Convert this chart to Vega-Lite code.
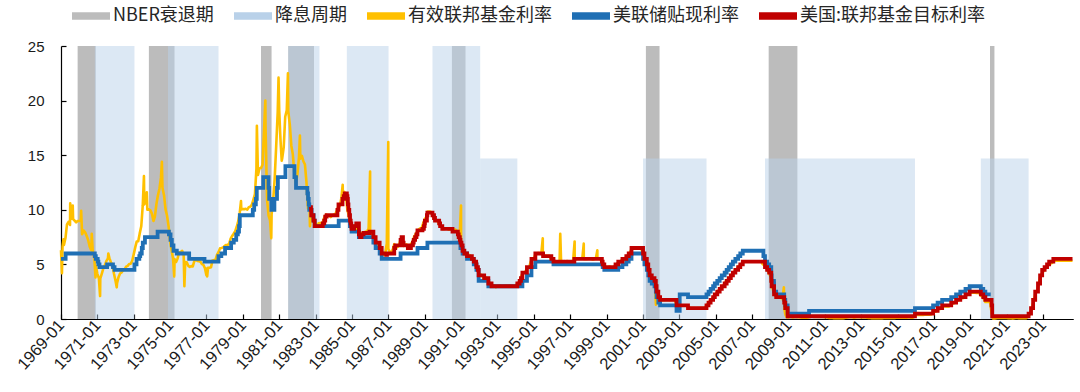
{
"$schema":"https://vega.github.io/schema/vega-lite/v6.json",
"width":1012,"height":273,
"autosize":{"type":"none"},
"padding":{"left":61,"top":46,"right":7,"bottom":73},
"background":"white",
"resolve":{"axis":{"x":"independent"}},
"config":{"view":{"stroke":null},"axis":{"grid":false,"domainColor":"#000","domainWidth":1.2,"tickColor":"#000","tickWidth":1.2,"labelColor":"#1a1a1a","labelFont":"Liberation Sans"}},
"datasets":{
"rec":[{"start":"1969-12-01","end":"1970-11-30","top":25},{"start":"1973-11-01","end":"1975-03-31","top":25},{"start":"1980-01-01","end":"1980-07-31","top":25},{"start":"1981-07-01","end":"1982-11-30","top":25},{"start":"1990-07-01","end":"1991-03-31","top":25},{"start":"2001-03-01","end":"2001-11-30","top":25},{"start":"2007-12-01","end":"2009-06-30","top":25},{"start":"2020-02-01","end":"2020-04-30","top":25}],
"cut":[{"start":"1970-11-11","end":"1973-01-15","top":25},{"start":"1974-11-20","end":"1977-08-30","top":25},{"start":"1981-07-01","end":"1983-03-20","top":25},{"start":"1984-09-20","end":"1987-01-05","top":25},{"start":"1989-06-06","end":"1992-01-20","top":25},{"start":"1992-01-20","end":"1994-02-04","top":14.7},{"start":"2001-01-03","end":"2004-06-30","top":14.7},{"start":"2007-09-18","end":"2015-12-17","top":14.7},{"start":"2019-08-01","end":"2022-03-17","top":14.7}],
"eff":[
{"d":"1969-01","v":6.3},{"d":"1969-01-20","v":4.2},{"d":"1969-02","v":6.64},{"d":"1969-02-20","v":7.3},{"d":"1969-03","v":6.79},{"d":"1969-04","v":7.41},{"d":"1969-05","v":8.67},{"d":"1969-06","v":8.9},{"d":"1969-07","v":8.61},{"d":"1969-07-05","v":10.6},{"d":"1969-08","v":9.19},{"d":"1969-08-25","v":10.4},{"d":"1969-09","v":9.15},{"d":"1969-10","v":9.0},{"d":"1969-11","v":8.85},{"d":"1969-12","v":8.97},
{"d":"1970-01","v":8.98},{"d":"1970-02","v":8.98},{"d":"1970-02-10","v":9.9},{"d":"1970-03","v":7.76},{"d":"1970-04","v":8.1},{"d":"1970-05","v":7.94},{"d":"1970-06","v":7.6},{"d":"1970-07","v":7.21},{"d":"1970-08","v":6.61},{"d":"1970-09","v":6.29},{"d":"1970-09-10","v":7.8},{"d":"1970-10","v":6.2},{"d":"1970-11","v":5.6},{"d":"1970-11-25","v":3.8},{"d":"1970-12","v":4.9},
{"d":"1971-01","v":4.14},{"d":"1971-02","v":3.72},{"d":"1971-02-25","v":2.1},{"d":"1971-03","v":3.71},{"d":"1971-04","v":4.16},{"d":"1971-05","v":4.63},{"d":"1971-06","v":4.91},{"d":"1971-07","v":5.31},{"d":"1971-08","v":5.56},{"d":"1971-08-10","v":6.0},{"d":"1971-09","v":5.55},{"d":"1971-10","v":5.2},{"d":"1971-11","v":4.91},{"d":"1971-12","v":4.14},
{"d":"1972-01","v":3.5},{"d":"1972-01-25","v":2.9},{"d":"1972-02","v":3.29},{"d":"1972-03","v":3.83},{"d":"1972-04","v":4.17},{"d":"1972-05","v":4.27},{"d":"1972-06","v":4.46},{"d":"1972-07","v":4.55},{"d":"1972-08","v":4.8},{"d":"1972-09","v":4.87},{"d":"1972-10","v":5.04},{"d":"1972-11","v":5.06},{"d":"1972-12","v":5.33},
{"d":"1973-01","v":5.94},{"d":"1973-02","v":6.58},{"d":"1973-03","v":7.09},{"d":"1973-04","v":7.12},{"d":"1973-05","v":7.84},{"d":"1973-06","v":8.49},{"d":"1973-07","v":10.4},{"d":"1973-07-25","v":13.1},{"d":"1973-08","v":10.5},{"d":"1973-09","v":10.78},{"d":"1973-09-20","v":11.6},{"d":"1973-10","v":10.01},{"d":"1973-11","v":10.03},{"d":"1973-12","v":9.95},
{"d":"1974-01","v":9.65},{"d":"1974-02","v":8.97},{"d":"1974-03","v":9.35},{"d":"1974-04","v":10.51},{"d":"1974-05","v":11.31},{"d":"1974-06","v":11.93},{"d":"1974-07","v":12.92},{"d":"1974-07-20","v":14.4},{"d":"1974-08","v":12.01},{"d":"1974-09","v":11.34},{"d":"1974-10","v":10.06},{"d":"1974-11","v":9.45},{"d":"1974-12","v":8.53},
{"d":"1975-01","v":7.13},{"d":"1975-02","v":6.24},{"d":"1975-03","v":5.54},{"d":"1975-03-25","v":3.9},{"d":"1975-04","v":5.49},{"d":"1975-05","v":5.22},{"d":"1975-06","v":5.55},{"d":"1975-07","v":6.1},{"d":"1975-08","v":6.14},{"d":"1975-09","v":6.24},{"d":"1975-10","v":5.82},{"d":"1975-10-15","v":3.0},{"d":"1975-11","v":5.22},{"d":"1975-12","v":5.2},
{"d":"1976-01","v":4.87},{"d":"1976-02","v":4.77},{"d":"1976-03","v":4.84},{"d":"1976-04","v":4.82},{"d":"1976-05","v":5.29},{"d":"1976-06","v":5.48},{"d":"1976-07","v":5.31},{"d":"1976-08","v":5.29},{"d":"1976-09","v":5.25},{"d":"1976-10","v":5.02},{"d":"1976-11","v":4.95},{"d":"1976-12","v":4.65},{"d":"1976-12-30","v":4.0},
{"d":"1977-01","v":4.61},{"d":"1977-01-15","v":3.9},{"d":"1977-02","v":4.68},{"d":"1977-03","v":4.69},{"d":"1977-04","v":4.73},{"d":"1977-05","v":5.35},{"d":"1977-06","v":5.39},{"d":"1977-07","v":5.42},{"d":"1977-08","v":5.9},{"d":"1977-09","v":6.14},{"d":"1977-10","v":6.47},{"d":"1977-11","v":6.51},{"d":"1977-12","v":6.56},
{"d":"1978-01","v":6.7},{"d":"1978-02","v":6.78},{"d":"1978-03","v":6.79},{"d":"1978-04","v":6.89},{"d":"1978-05","v":7.36},{"d":"1978-06","v":7.6},{"d":"1978-07","v":7.81},{"d":"1978-08","v":8.04},{"d":"1978-09","v":8.45},{"d":"1978-10","v":8.96},{"d":"1978-11","v":9.76},{"d":"1978-11-25","v":10.8},{"d":"1978-12","v":10.03},
{"d":"1979-01","v":10.07},{"d":"1979-02","v":10.06},{"d":"1979-03","v":10.09},{"d":"1979-04","v":10.01},{"d":"1979-05","v":10.24},{"d":"1979-06","v":10.29},{"d":"1979-07","v":10.47},{"d":"1979-08","v":10.94},{"d":"1979-09","v":11.43},{"d":"1979-10","v":13.77},{"d":"1979-10-10","v":17.7},{"d":"1979-11","v":13.18},{"d":"1979-12","v":13.78},
{"d":"1980-01","v":13.82},{"d":"1980-02","v":14.13},{"d":"1980-03","v":17.19},{"d":"1980-03-28","v":20.0},{"d":"1980-04","v":17.61},{"d":"1980-05","v":10.98},{"d":"1980-06","v":9.47},{"d":"1980-07","v":9.03},{"d":"1980-07-25","v":7.4},{"d":"1980-08","v":9.61},{"d":"1980-09","v":10.87},{"d":"1980-10","v":12.81},{"d":"1980-11","v":15.85},{"d":"1980-12","v":18.9},{"d":"1980-12-18","v":22.1},
{"d":"1981-01","v":19.08},{"d":"1981-01-20","v":17.0},{"d":"1981-02","v":15.93},{"d":"1981-02-20","v":14.5},{"d":"1981-03","v":14.7},{"d":"1981-04","v":15.72},{"d":"1981-05","v":18.52},{"d":"1981-06","v":19.1},{"d":"1981-06-25","v":22.5},{"d":"1981-07","v":19.04},{"d":"1981-08","v":17.82},{"d":"1981-09","v":15.87},{"d":"1981-10","v":15.08},{"d":"1981-11","v":13.31},{"d":"1981-12","v":12.37},
{"d":"1982-01","v":13.22},{"d":"1982-02","v":14.78},{"d":"1982-02-20","v":16.8},{"d":"1982-03","v":14.68},{"d":"1982-04","v":14.94},{"d":"1982-05","v":14.45},{"d":"1982-06","v":14.15},{"d":"1982-07","v":12.59},{"d":"1982-08","v":10.12},{"d":"1982-09","v":10.31},{"d":"1982-09-10","v":8.5},{"d":"1982-10","v":9.71},{"d":"1982-11","v":9.2},{"d":"1982-12","v":8.95},
{"d":"1983-01","v":8.68},{"d":"1983-02","v":8.51},{"d":"1983-03","v":8.77},{"d":"1983-04","v":8.8},{"d":"1983-05","v":8.63},{"d":"1983-06","v":8.98},{"d":"1983-07","v":9.37},{"d":"1983-08","v":9.56},{"d":"1983-09","v":9.45},{"d":"1983-10","v":9.48},{"d":"1983-11","v":9.34},{"d":"1983-12","v":9.47},
{"d":"1984-01","v":9.56},{"d":"1984-02","v":9.59},{"d":"1984-03","v":9.91},{"d":"1984-04","v":10.29},{"d":"1984-05","v":10.32},{"d":"1984-06","v":11.06},{"d":"1984-06-29","v":12.3},{"d":"1984-07","v":11.23},{"d":"1984-08","v":11.64},{"d":"1984-09","v":11.3},{"d":"1984-10","v":9.99},{"d":"1984-11","v":9.43},{"d":"1984-12","v":8.38},
{"d":"1985-01","v":8.35},{"d":"1985-02","v":8.5},{"d":"1985-03","v":8.58},{"d":"1985-04","v":8.27},{"d":"1985-05","v":7.97},{"d":"1985-06","v":7.53},{"d":"1985-07","v":7.88},{"d":"1985-08","v":7.9},{"d":"1985-09","v":7.92},{"d":"1985-10","v":7.99},{"d":"1985-11","v":8.05},{"d":"1985-12","v":8.27},{"d":"1985-12-31","v":13.5},
{"d":"1986-01","v":8.14},{"d":"1986-02","v":7.86},{"d":"1986-03","v":7.48},{"d":"1986-04","v":6.99},{"d":"1986-05","v":6.85},{"d":"1986-06","v":6.92},{"d":"1986-07","v":6.56},{"d":"1986-08","v":6.17},{"d":"1986-09","v":5.89},{"d":"1986-10","v":5.85},{"d":"1986-11","v":6.04},{"d":"1986-12","v":6.91},{"d":"1986-12-31","v":16.2},
{"d":"1987-01","v":6.43},{"d":"1987-02","v":6.1},{"d":"1987-03","v":6.13},{"d":"1987-04","v":6.37},{"d":"1987-05","v":6.85},{"d":"1987-06","v":6.73},{"d":"1987-07","v":6.58},{"d":"1987-08","v":6.73},{"d":"1987-09","v":7.22},{"d":"1987-10","v":7.29},{"d":"1987-11","v":6.69},{"d":"1987-12","v":6.77},
{"d":"1988-01","v":6.83},{"d":"1988-02","v":6.58},{"d":"1988-03","v":6.58},{"d":"1988-04","v":6.87},{"d":"1988-05","v":7.09},{"d":"1988-06","v":7.51},{"d":"1988-07","v":7.75},{"d":"1988-08","v":8.01},{"d":"1988-09","v":8.19},{"d":"1988-10","v":8.3},{"d":"1988-11","v":8.35},{"d":"1988-12","v":8.76},
{"d":"1989-01","v":9.12},{"d":"1989-02","v":9.36},{"d":"1989-03","v":9.85},{"d":"1989-04","v":9.84},{"d":"1989-05","v":9.81},{"d":"1989-06","v":9.53},{"d":"1989-07","v":9.24},{"d":"1989-08","v":8.99},{"d":"1989-09","v":9.02},{"d":"1989-10","v":8.84},{"d":"1989-11","v":8.55},{"d":"1989-12","v":8.45},
{"d":"1990-01","v":8.23},{"d":"1990-02","v":8.24},{"d":"1990-03","v":8.28},{"d":"1990-04","v":8.26},{"d":"1990-05","v":8.18},{"d":"1990-06","v":8.29},{"d":"1990-07","v":8.15},{"d":"1990-08","v":8.13},{"d":"1990-09","v":8.2},{"d":"1990-10","v":8.11},{"d":"1990-11","v":7.81},{"d":"1990-12","v":7.31},{"d":"1990-12-31","v":10.4},
{"d":"1991-01","v":6.91},{"d":"1991-02","v":6.25},{"d":"1991-03","v":6.12},{"d":"1991-04","v":5.91},{"d":"1991-05","v":5.78},{"d":"1991-06","v":5.9},{"d":"1991-07","v":5.82},{"d":"1991-08","v":5.66},{"d":"1991-09","v":5.45},{"d":"1991-10","v":5.21},{"d":"1991-11","v":4.81},{"d":"1991-12","v":4.43},
{"d":"1992-01","v":4.03},{"d":"1992-02","v":4.06},{"d":"1992-03","v":3.98},{"d":"1992-04","v":3.73},{"d":"1992-05","v":3.82},{"d":"1992-06","v":3.76},{"d":"1992-07","v":3.25},{"d":"1992-08","v":3.3},{"d":"1992-09","v":3.22},{"d":"1992-10","v":3.1},{"d":"1992-11","v":3.09},{"d":"1992-12","v":2.92},
{"d":"1993-01","v":3.02},{"d":"1993-02","v":3.03},{"d":"1993-03","v":3.07},{"d":"1993-04","v":2.96},{"d":"1993-05","v":3.0},{"d":"1993-06","v":3.04},{"d":"1993-07","v":3.06},{"d":"1993-08","v":3.03},{"d":"1993-09","v":3.09},{"d":"1993-10","v":2.99},{"d":"1993-11","v":3.02},{"d":"1993-12","v":2.96},
{"d":"1994-01","v":3.05},{"d":"1994-02","v":3.25},{"d":"1994-03","v":3.34},{"d":"1994-04","v":3.56},{"d":"1994-05","v":4.01},{"d":"1994-06","v":4.25},{"d":"1994-07","v":4.26},{"d":"1994-08","v":4.47},{"d":"1994-09","v":4.73},{"d":"1994-10","v":4.76},{"d":"1994-11","v":5.29},{"d":"1994-12","v":5.45},
{"d":"1995-01","v":5.53},{"d":"1995-02","v":5.92},{"d":"1995-03","v":5.98},{"d":"1995-04","v":6.05},{"d":"1995-05","v":6.01},{"d":"1995-06","v":6.0},{"d":"1995-06-30","v":7.4},{"d":"1995-07","v":5.85},{"d":"1995-08","v":5.74},{"d":"1995-09","v":5.8},{"d":"1995-10","v":5.76},{"d":"1995-11","v":5.8},{"d":"1995-12","v":5.6},
{"d":"1996-01","v":5.56},{"d":"1996-02","v":5.22},{"d":"1996-03","v":5.31},{"d":"1996-04","v":5.22},{"d":"1996-05","v":5.24},{"d":"1996-06","v":5.27},{"d":"1996-06-15","v":7.8},{"d":"1996-07","v":5.4},{"d":"1996-08","v":5.22},{"d":"1996-09","v":5.3},{"d":"1996-10","v":5.24},{"d":"1996-11","v":5.31},{"d":"1996-12","v":5.29},
{"d":"1997-01","v":5.25},{"d":"1997-02","v":5.19},{"d":"1997-03","v":5.39},{"d":"1997-03-31","v":7.1},{"d":"1997-04","v":5.51},{"d":"1997-05","v":5.5},{"d":"1997-06","v":5.56},{"d":"1997-07","v":5.52},{"d":"1997-08","v":5.54},{"d":"1997-09","v":5.54},{"d":"1997-09-30","v":6.9},{"d":"1997-10","v":5.5},{"d":"1997-11","v":5.52},{"d":"1997-12","v":5.5},
{"d":"1998-01","v":5.56},{"d":"1998-02","v":5.51},{"d":"1998-03","v":5.49},{"d":"1998-04","v":5.45},{"d":"1998-05","v":5.49},{"d":"1998-06","v":5.56},{"d":"1998-06-30","v":6.3},{"d":"1998-07","v":5.54},{"d":"1998-08","v":5.55},{"d":"1998-09","v":5.51},{"d":"1998-10","v":5.07},{"d":"1998-11","v":4.83},{"d":"1998-12","v":4.68},
{"d":"1999-01","v":4.63},{"d":"1999-02","v":4.76},{"d":"1999-03","v":4.81},{"d":"1999-04","v":4.74},{"d":"1999-05","v":4.74},{"d":"1999-06","v":4.76},{"d":"1999-07","v":4.99},{"d":"1999-08","v":5.07},{"d":"1999-09","v":5.22},{"d":"1999-10","v":5.2},{"d":"1999-11","v":5.42},{"d":"1999-12","v":5.3},
{"d":"2000-01","v":5.45},{"d":"2000-02","v":5.73},{"d":"2000-03","v":5.85},{"d":"2000-04","v":6.02},{"d":"2000-05","v":6.27},{"d":"2000-06","v":6.53},{"d":"2000-07","v":6.54},{"d":"2000-08","v":6.5},{"d":"2000-09","v":6.52},{"d":"2000-10","v":6.51},{"d":"2000-11","v":6.51},{"d":"2000-12","v":6.4},
{"d":"2001-01","v":5.98},{"d":"2001-02","v":5.49},{"d":"2001-03","v":5.31},{"d":"2001-04","v":4.8},{"d":"2001-05","v":4.21},{"d":"2001-06","v":3.97},{"d":"2001-07","v":3.77},{"d":"2001-08","v":3.65},{"d":"2001-09","v":3.07},{"d":"2001-09-19","v":1.3},{"d":"2001-10","v":2.49},{"d":"2001-11","v":2.09},{"d":"2001-12","v":1.82},
{"d":"2002-01","v":1.73},{"d":"2002-02","v":1.74},{"d":"2002-03","v":1.73},{"d":"2002-04","v":1.75},{"d":"2002-05","v":1.75},{"d":"2002-06","v":1.75},{"d":"2002-07","v":1.73},{"d":"2002-08","v":1.74},{"d":"2002-09","v":1.75},{"d":"2002-10","v":1.75},{"d":"2002-11","v":1.34},{"d":"2002-12","v":1.24},
{"d":"2003-01","v":1.24},{"d":"2003-02","v":1.26},{"d":"2003-03","v":1.25},{"d":"2003-04","v":1.26},{"d":"2003-05","v":1.26},{"d":"2003-06","v":1.22},{"d":"2003-07","v":1.01},{"d":"2003-08","v":1.03},{"d":"2003-09","v":1.01},{"d":"2003-10","v":1.01},{"d":"2003-11","v":1.0},{"d":"2003-12","v":0.98},
{"d":"2004-01","v":1.0},{"d":"2004-02","v":1.01},{"d":"2004-03","v":1.0},{"d":"2004-04","v":1.0},{"d":"2004-05","v":1.0},{"d":"2004-06","v":1.03},{"d":"2004-07","v":1.26},{"d":"2004-08","v":1.43},{"d":"2004-09","v":1.61},{"d":"2004-10","v":1.76},{"d":"2004-11","v":1.93},{"d":"2004-12","v":2.16},
{"d":"2005-01","v":2.28},{"d":"2005-02","v":2.5},{"d":"2005-03","v":2.63},{"d":"2005-04","v":2.79},{"d":"2005-05","v":3.0},{"d":"2005-06","v":3.04},{"d":"2005-07","v":3.26},{"d":"2005-08","v":3.5},{"d":"2005-09","v":3.62},{"d":"2005-10","v":3.78},{"d":"2005-11","v":4.0},{"d":"2005-12","v":4.16},
{"d":"2006-01","v":4.29},{"d":"2006-02","v":4.49},{"d":"2006-03","v":4.59},{"d":"2006-04","v":4.79},{"d":"2006-05","v":4.94},{"d":"2006-06","v":4.99},{"d":"2006-07","v":5.24},{"d":"2006-08","v":5.25},{"d":"2006-09","v":5.25},{"d":"2006-10","v":5.25},{"d":"2006-11","v":5.25},{"d":"2006-12","v":5.24},
{"d":"2007-01","v":5.25},{"d":"2007-02","v":5.26},{"d":"2007-03","v":5.26},{"d":"2007-04","v":5.25},{"d":"2007-05","v":5.25},{"d":"2007-06","v":5.25},{"d":"2007-07","v":5.26},{"d":"2007-08","v":5.02},{"d":"2007-09","v":4.94},{"d":"2007-10","v":4.76},{"d":"2007-11","v":4.49},{"d":"2007-12","v":4.24},
{"d":"2008-01","v":3.94},{"d":"2008-02","v":2.98},{"d":"2008-03","v":2.61},{"d":"2008-04","v":2.28},{"d":"2008-05","v":1.98},{"d":"2008-06","v":2.0},{"d":"2008-07","v":2.01},{"d":"2008-08","v":2.0},{"d":"2008-09","v":1.81},{"d":"2008-10-01","v":2.9},{"d":"2008-10-10","v":0.97},{"d":"2008-11","v":0.39},{"d":"2008-12","v":0.16},
{"d":"2009-01","v":0.15},{"d":"2009-02","v":0.22},{"d":"2009-03","v":0.18},{"d":"2009-04","v":0.15},{"d":"2009-05","v":0.18},{"d":"2009-06","v":0.21},{"d":"2009-07","v":0.16},{"d":"2009-08","v":0.16},{"d":"2009-09","v":0.15},{"d":"2009-10","v":0.12},{"d":"2009-11","v":0.12},{"d":"2009-12","v":0.12},
{"d":"2010-01","v":0.11},{"d":"2010-02","v":0.13},{"d":"2010-03","v":0.16},{"d":"2010-04","v":0.2},{"d":"2010-05","v":0.2},{"d":"2010-06","v":0.18},{"d":"2010-07","v":0.18},{"d":"2010-08","v":0.19},{"d":"2010-09","v":0.19},{"d":"2010-10","v":0.19},{"d":"2010-11","v":0.19},{"d":"2010-12","v":0.18},
{"d":"2011-01","v":0.17},{"d":"2011-02","v":0.16},{"d":"2011-03","v":0.14},{"d":"2011-04","v":0.1},{"d":"2011-05","v":0.09},{"d":"2011-06","v":0.09},{"d":"2011-07","v":0.07},{"d":"2011-08","v":0.1},{"d":"2011-09","v":0.08},{"d":"2011-10","v":0.07},{"d":"2011-11","v":0.08},{"d":"2011-12","v":0.07},
{"d":"2012-01","v":0.08},{"d":"2012-02","v":0.1},{"d":"2012-03","v":0.13},{"d":"2012-04","v":0.14},{"d":"2012-05","v":0.16},{"d":"2012-06","v":0.16},{"d":"2012-07","v":0.16},{"d":"2012-08","v":0.13},{"d":"2012-09","v":0.14},{"d":"2012-10","v":0.16},{"d":"2012-11","v":0.16},{"d":"2012-12","v":0.16},
{"d":"2013-01","v":0.14},{"d":"2013-02","v":0.15},{"d":"2013-03","v":0.14},{"d":"2013-04","v":0.15},{"d":"2013-05","v":0.11},{"d":"2013-06","v":0.09},{"d":"2013-07","v":0.09},{"d":"2013-08","v":0.08},{"d":"2013-09","v":0.08},{"d":"2013-10","v":0.09},{"d":"2013-11","v":0.08},{"d":"2013-12","v":0.09},
{"d":"2014-01","v":0.07},{"d":"2014-02","v":0.07},{"d":"2014-03","v":0.08},{"d":"2014-04","v":0.09},{"d":"2014-05","v":0.09},{"d":"2014-06","v":0.1},{"d":"2014-07","v":0.09},{"d":"2014-08","v":0.09},{"d":"2014-09","v":0.09},{"d":"2014-10","v":0.09},{"d":"2014-11","v":0.09},{"d":"2014-12","v":0.12},
{"d":"2015-01","v":0.11},{"d":"2015-02","v":0.11},{"d":"2015-03","v":0.11},{"d":"2015-04","v":0.12},{"d":"2015-05","v":0.12},{"d":"2015-06","v":0.13},{"d":"2015-07","v":0.13},{"d":"2015-08","v":0.14},{"d":"2015-09","v":0.14},{"d":"2015-10","v":0.12},{"d":"2015-11","v":0.12},{"d":"2015-12","v":0.24},
{"d":"2016-01","v":0.34},{"d":"2016-02","v":0.38},{"d":"2016-03","v":0.36},{"d":"2016-04","v":0.37},{"d":"2016-05","v":0.37},{"d":"2016-06","v":0.38},{"d":"2016-07","v":0.39},{"d":"2016-08","v":0.4},{"d":"2016-09","v":0.4},{"d":"2016-10","v":0.4},{"d":"2016-11","v":0.41},{"d":"2016-12","v":0.54},
{"d":"2017-01","v":0.65},{"d":"2017-02","v":0.66},{"d":"2017-03","v":0.79},{"d":"2017-04","v":0.9},{"d":"2017-05","v":0.91},{"d":"2017-06","v":1.04},{"d":"2017-07","v":1.15},{"d":"2017-08","v":1.16},{"d":"2017-09","v":1.15},{"d":"2017-10","v":1.15},{"d":"2017-11","v":1.16},{"d":"2017-12","v":1.3},
{"d":"2018-01","v":1.41},{"d":"2018-02","v":1.42},{"d":"2018-03","v":1.51},{"d":"2018-04","v":1.69},{"d":"2018-05","v":1.7},{"d":"2018-06","v":1.82},{"d":"2018-07","v":1.91},{"d":"2018-08","v":1.91},{"d":"2018-09","v":1.95},{"d":"2018-10","v":2.19},{"d":"2018-11","v":2.2},{"d":"2018-12","v":2.27},
{"d":"2019-01","v":2.4},{"d":"2019-02","v":2.4},{"d":"2019-03","v":2.41},{"d":"2019-04","v":2.42},{"d":"2019-05","v":2.39},{"d":"2019-06","v":2.38},{"d":"2019-07","v":2.4},{"d":"2019-08","v":2.13},{"d":"2019-09","v":2.04},{"d":"2019-10","v":1.83},{"d":"2019-11","v":1.55},{"d":"2019-12","v":1.55},
{"d":"2020-01","v":1.55},{"d":"2020-02","v":1.58},{"d":"2020-03","v":0.65},{"d":"2020-04","v":0.05},{"d":"2020-05","v":0.05},{"d":"2020-06","v":0.08},{"d":"2020-07","v":0.09},{"d":"2020-08","v":0.1},{"d":"2020-09","v":0.09},{"d":"2020-10","v":0.09},{"d":"2020-11","v":0.09},{"d":"2020-12","v":0.09},
{"d":"2021-01","v":0.09},{"d":"2021-02","v":0.08},{"d":"2021-03","v":0.07},{"d":"2021-04","v":0.07},{"d":"2021-05","v":0.06},{"d":"2021-06","v":0.08},{"d":"2021-07","v":0.1},{"d":"2021-08","v":0.09},{"d":"2021-09","v":0.08},{"d":"2021-10","v":0.08},{"d":"2021-11","v":0.08},{"d":"2021-12","v":0.08},
{"d":"2022-01","v":0.08},{"d":"2022-02","v":0.08},{"d":"2022-03","v":0.2},{"d":"2022-04","v":0.33},{"d":"2022-05","v":0.77},{"d":"2022-06","v":1.21},{"d":"2022-07","v":1.68},{"d":"2022-08","v":2.33},{"d":"2022-09","v":2.56},{"d":"2022-10","v":3.08},{"d":"2022-11","v":3.78},{"d":"2022-12","v":4.1},
{"d":"2023-01","v":4.33},{"d":"2023-02","v":4.57},{"d":"2023-03","v":4.65},{"d":"2023-04","v":4.83},{"d":"2023-05","v":5.06},{"d":"2023-06","v":5.08},{"d":"2023-07","v":5.12},{"d":"2023-08","v":5.33},{"d":"2023-09","v":5.33},{"d":"2023-10","v":5.33},{"d":"2023-11","v":5.33},{"d":"2023-12","v":5.33},
{"d":"2024-01","v":5.33},{"d":"2024-02","v":5.33},{"d":"2024-03","v":5.33},{"d":"2024-04","v":5.33},{"d":"2024-05","v":5.33},{"d":"2024-06","v":5.33},{"d":"2024-07","v":5.33},{"d":"2024-08-15","v":5.33}
],
"disc":[
{"d":"1969-01-01","v":5.5},{"d":"1969-04-04","v":6.0},{"d":"1970-11-11","v":5.75},{"d":"1970-12-01","v":5.5},{"d":"1971-01-08","v":5.25},{"d":"1971-01-22","v":5.0},{"d":"1971-02-13","v":4.75},{"d":"1971-07-16","v":5.0},{"d":"1971-11-11","v":4.75},{"d":"1971-12-13","v":4.5},
{"d":"1973-01-15","v":5.0},{"d":"1973-02-26","v":5.5},{"d":"1973-04-23","v":5.75},{"d":"1973-05-11","v":6.0},{"d":"1973-06-11","v":6.5},{"d":"1973-07-02","v":7.0},{"d":"1973-08-14","v":7.5},{"d":"1974-04-25","v":8.0},{"d":"1974-12-09","v":7.75},
{"d":"1975-01-10","v":7.25},{"d":"1975-02-05","v":6.75},{"d":"1975-03-10","v":6.25},{"d":"1975-05-16","v":6.0},{"d":"1976-01-19","v":5.5},{"d":"1976-11-22","v":5.25},{"d":"1977-08-30","v":5.75},{"d":"1977-10-26","v":6.0},
{"d":"1978-01-09","v":6.5},{"d":"1978-05-11","v":7.0},{"d":"1978-07-03","v":7.25},{"d":"1978-08-21","v":7.75},{"d":"1978-09-22","v":8.0},{"d":"1978-10-16","v":8.5},{"d":"1978-11-01","v":9.5},
{"d":"1979-07-20","v":10.0},{"d":"1979-08-17","v":10.5},{"d":"1979-09-19","v":11.0},{"d":"1979-10-08","v":12.0},{"d":"1980-02-15","v":13.0},{"d":"1980-05-30","v":12.0},{"d":"1980-06-13","v":11.0},{"d":"1980-07-28","v":10.0},{"d":"1980-09-26","v":11.0},{"d":"1980-11-17","v":12.0},{"d":"1980-12-05","v":13.0},
{"d":"1981-05-05","v":14.0},{"d":"1981-11-02","v":13.0},{"d":"1981-12-04","v":12.0},{"d":"1982-07-20","v":11.5},{"d":"1982-08-02","v":11.0},{"d":"1982-08-16","v":10.5},{"d":"1982-08-27","v":10.0},{"d":"1982-10-12","v":9.5},{"d":"1982-11-22","v":9.0},{"d":"1982-12-15","v":8.5},
{"d":"1984-04-09","v":9.0},{"d":"1984-11-21","v":8.5},{"d":"1984-12-24","v":8.0},{"d":"1985-05-20","v":7.5},{"d":"1986-03-07","v":7.0},{"d":"1986-04-21","v":6.5},{"d":"1986-07-11","v":6.0},{"d":"1986-08-21","v":5.5},{"d":"1987-09-04","v":6.0},{"d":"1988-08-09","v":6.5},{"d":"1989-02-24","v":7.0},
{"d":"1990-12-19","v":6.5},{"d":"1991-02-01","v":6.0},{"d":"1991-04-30","v":5.5},{"d":"1991-09-13","v":5.0},{"d":"1991-11-06","v":4.5},{"d":"1991-12-20","v":3.5},{"d":"1992-07-02","v":3.0},
{"d":"1994-05-17","v":3.5},{"d":"1994-08-16","v":4.0},{"d":"1994-11-15","v":4.75},{"d":"1995-02-01","v":5.25},{"d":"1996-01-31","v":5.0},{"d":"1998-10-15","v":4.75},{"d":"1998-11-17","v":4.5},{"d":"1999-08-24","v":4.75},{"d":"1999-11-16","v":5.0},
{"d":"2000-02-02","v":5.25},{"d":"2000-03-21","v":5.5},{"d":"2000-05-16","v":6.0},{"d":"2001-01-03","v":5.5},{"d":"2001-01-31","v":5.0},{"d":"2001-03-20","v":4.5},{"d":"2001-04-18","v":4.0},{"d":"2001-05-15","v":3.5},{"d":"2001-06-27","v":3.25},{"d":"2001-08-21","v":3.0},{"d":"2001-09-17","v":2.5},{"d":"2001-10-02","v":2.0},{"d":"2001-11-06","v":1.5},{"d":"2001-12-11","v":1.25},
{"d":"2002-11-06","v":0.75},{"d":"2003-01-09","v":2.25},{"d":"2003-06-25","v":2.0},{"d":"2004-06-30","v":2.25},{"d":"2004-08-10","v":2.5},{"d":"2004-09-21","v":2.75},{"d":"2004-11-10","v":3.0},{"d":"2004-12-14","v":3.25},
{"d":"2005-02-02","v":3.5},{"d":"2005-03-22","v":3.75},{"d":"2005-05-03","v":4.0},{"d":"2005-06-30","v":4.25},{"d":"2005-08-09","v":4.5},{"d":"2005-09-20","v":4.75},{"d":"2005-11-01","v":5.0},{"d":"2005-12-13","v":5.25},
{"d":"2006-01-31","v":5.5},{"d":"2006-03-28","v":5.75},{"d":"2006-05-10","v":6.0},{"d":"2006-06-29","v":6.25},{"d":"2007-08-17","v":5.75},{"d":"2007-09-18","v":5.25},{"d":"2007-10-31","v":5.0},{"d":"2007-12-11","v":4.75},
{"d":"2008-01-22","v":4.0},{"d":"2008-01-30","v":3.5},{"d":"2008-03-16","v":3.25},{"d":"2008-03-18","v":2.5},{"d":"2008-04-30","v":2.25},{"d":"2008-10-08","v":1.75},{"d":"2008-10-29","v":1.25},{"d":"2008-12-16","v":0.5},
{"d":"2010-02-19","v":0.75},{"d":"2015-12-17","v":1.0},{"d":"2016-12-15","v":1.25},{"d":"2017-03-16","v":1.5},{"d":"2017-06-15","v":1.75},{"d":"2017-12-14","v":2.0},{"d":"2018-03-22","v":2.25},{"d":"2018-06-14","v":2.5},{"d":"2018-09-27","v":2.75},{"d":"2018-12-20","v":3.0},
{"d":"2019-08-01","v":2.75},{"d":"2019-09-19","v":2.5},{"d":"2019-10-31","v":2.25},{"d":"2020-02-15","v":2.25}
],
"tgt":[
{"d":"1982-09-27","v":10.25},{"d":"1982-10-01","v":10.0},{"d":"1982-10-07","v":9.5},{"d":"1982-11-19","v":9.0},{"d":"1982-12-14","v":8.5},{"d":"1983-05-25","v":8.75},{"d":"1983-06-24","v":9.0},{"d":"1983-07-14","v":9.375},{"d":"1983-08-11","v":9.5},
{"d":"1984-03-15","v":10.0},{"d":"1984-04-05","v":10.5},{"d":"1984-06-25","v":11.0},{"d":"1984-07-19","v":11.25},{"d":"1984-08-09","v":11.5},{"d":"1984-09-20","v":11.25},{"d":"1984-10-02","v":11.0},{"d":"1984-10-11","v":10.5},{"d":"1984-10-22","v":10.0},{"d":"1984-11-08","v":9.5},{"d":"1984-11-23","v":9.0},{"d":"1984-12-06","v":8.75},{"d":"1984-12-18","v":8.5},{"d":"1984-12-24","v":8.25},
{"d":"1985-02-14","v":8.5},{"d":"1985-03-28","v":8.75},{"d":"1985-05-20","v":7.75},{"d":"1985-06-12","v":7.5},{"d":"1985-07-11","v":7.75},{"d":"1985-08-21","v":7.875},{"d":"1985-12-18","v":8.0},
{"d":"1986-03-07","v":7.5},{"d":"1986-04-21","v":7.0},{"d":"1986-07-11","v":6.5},{"d":"1986-08-21","v":6.0},{"d":"1986-11-20","v":5.875},{"d":"1986-12-04","v":6.0},
{"d":"1987-04-30","v":6.5},{"d":"1987-05-20","v":6.75},{"d":"1987-09-04","v":7.25},{"d":"1987-09-24","v":7.5},{"d":"1987-10-22","v":7.0},{"d":"1987-11-04","v":6.75},
{"d":"1988-01-28","v":6.5},{"d":"1988-03-30","v":6.75},{"d":"1988-05-09","v":7.0},{"d":"1988-05-25","v":7.25},{"d":"1988-06-22","v":7.5},{"d":"1988-07-19","v":7.75},{"d":"1988-08-08","v":8.125},{"d":"1988-11-17","v":8.25},{"d":"1988-12-15","v":8.5},{"d":"1988-12-29","v":8.75},
{"d":"1989-01-05","v":9.0},{"d":"1989-02-14","v":9.5},{"d":"1989-02-23","v":9.75},{"d":"1989-06-06","v":9.5},{"d":"1989-07-07","v":9.25},{"d":"1989-07-27","v":9.0},{"d":"1989-10-18","v":8.75},{"d":"1989-11-06","v":8.5},{"d":"1989-12-20","v":8.25},
{"d":"1990-07-13","v":8.0},{"d":"1990-10-29","v":7.75},{"d":"1990-11-14","v":7.5},{"d":"1990-12-07","v":7.25},{"d":"1990-12-19","v":7.0},{"d":"1991-01-09","v":6.75},{"d":"1991-02-01","v":6.25},{"d":"1991-03-08","v":6.0},{"d":"1991-04-30","v":5.75},{"d":"1991-08-06","v":5.5},{"d":"1991-09-13","v":5.25},{"d":"1991-10-31","v":5.0},{"d":"1991-11-06","v":4.75},{"d":"1991-12-06","v":4.5},{"d":"1991-12-20","v":4.0},
{"d":"1992-04-09","v":3.75},{"d":"1992-07-02","v":3.25},{"d":"1992-09-04","v":3.0},{"d":"1994-02-04","v":3.25},{"d":"1994-03-22","v":3.5},{"d":"1994-04-18","v":3.75},{"d":"1994-05-17","v":4.25},{"d":"1994-08-16","v":4.75},{"d":"1994-11-15","v":5.5},
{"d":"1995-02-01","v":6.0},{"d":"1995-07-06","v":5.75},{"d":"1995-12-19","v":5.5},{"d":"1996-01-31","v":5.25},{"d":"1997-03-25","v":5.5},{"d":"1998-09-29","v":5.25},{"d":"1998-10-15","v":5.0},{"d":"1998-11-17","v":4.75},{"d":"1999-06-30","v":5.0},{"d":"1999-08-24","v":5.25},{"d":"1999-11-16","v":5.5},
{"d":"2000-02-02","v":5.75},{"d":"2000-03-21","v":6.0},{"d":"2000-05-16","v":6.5},{"d":"2001-01-03","v":6.0},{"d":"2001-01-31","v":5.5},{"d":"2001-03-20","v":5.0},{"d":"2001-04-18","v":4.5},{"d":"2001-05-15","v":4.0},{"d":"2001-06-27","v":3.75},{"d":"2001-08-21","v":3.5},{"d":"2001-09-17","v":3.0},{"d":"2001-10-02","v":2.5},{"d":"2001-11-06","v":2.0},{"d":"2001-12-11","v":1.75},
{"d":"2002-11-06","v":1.25},{"d":"2003-06-25","v":1.0},{"d":"2004-06-30","v":1.25},{"d":"2004-08-10","v":1.5},{"d":"2004-09-21","v":1.75},{"d":"2004-11-10","v":2.0},{"d":"2004-12-14","v":2.25},
{"d":"2005-02-02","v":2.5},{"d":"2005-03-22","v":2.75},{"d":"2005-05-03","v":3.0},{"d":"2005-06-30","v":3.25},{"d":"2005-08-09","v":3.5},{"d":"2005-09-20","v":3.75},{"d":"2005-11-01","v":4.0},{"d":"2005-12-13","v":4.25},
{"d":"2006-01-31","v":4.5},{"d":"2006-03-28","v":4.75},{"d":"2006-05-10","v":5.0},{"d":"2006-06-29","v":5.25},{"d":"2007-09-18","v":4.75},{"d":"2007-10-31","v":4.5},{"d":"2007-12-11","v":4.25},
{"d":"2008-01-22","v":3.5},{"d":"2008-01-30","v":3.0},{"d":"2008-03-18","v":2.25},{"d":"2008-04-30","v":2.0},{"d":"2008-10-08","v":1.5},{"d":"2008-10-29","v":1.0},{"d":"2008-12-16","v":0.25},
{"d":"2015-12-17","v":0.5},{"d":"2016-12-15","v":0.75},{"d":"2017-03-16","v":1.0},{"d":"2017-06-15","v":1.25},{"d":"2017-12-14","v":1.5},{"d":"2018-03-22","v":1.75},{"d":"2018-06-14","v":2.0},{"d":"2018-09-27","v":2.25},{"d":"2018-12-20","v":2.5},
{"d":"2019-08-01","v":2.25},{"d":"2019-09-19","v":2.0},{"d":"2019-10-31","v":1.75},{"d":"2020-03-04","v":1.25},{"d":"2020-03-16","v":0.25},
{"d":"2022-03-17","v":0.5},{"d":"2022-05-05","v":1.0},{"d":"2022-06-16","v":1.75},{"d":"2022-07-28","v":2.5},{"d":"2022-09-22","v":3.25},{"d":"2022-11-03","v":4.0},{"d":"2022-12-15","v":4.5},{"d":"2023-02-02","v":4.75},{"d":"2023-03-23","v":5.0},{"d":"2023-05-04","v":5.25},{"d":"2023-07-27","v":5.5},{"d":"2024-08-15","v":5.5}
]
},
"layer":[
{"data":{"name":"rec"},"mark":{"type":"rect","opacity":1},
 "encoding":{
  "x":{"field":"start","type":"temporal","title":null,
   "scale":{"type":"utc","domain":[{"year":1969,"month":1,"date":1,"utc":true},{"year":2024,"month":8,"date":25,"utc":true}]},
   "axis":{"orient":"bottom","values":[{"year":1969,"month":1,"date":1,"utc":true},{"year":1973,"month":1,"date":1,"utc":true},{"year":1977,"month":1,"date":1,"utc":true},{"year":1981,"month":1,"date":1,"utc":true},{"year":1985,"month":1,"date":1,"utc":true},{"year":1989,"month":1,"date":1,"utc":true},{"year":1993,"month":1,"date":1,"utc":true},{"year":1997,"month":1,"date":1,"utc":true},{"year":2001,"month":1,"date":1,"utc":true},{"year":2005,"month":1,"date":1,"utc":true},{"year":2009,"month":1,"date":1,"utc":true},{"year":2013,"month":1,"date":1,"utc":true},{"year":2017,"month":1,"date":1,"utc":true},{"year":2021,"month":1,"date":1,"utc":true}],
    "labelExpr":"utcFormat(datum.value, '%Y-%m')","labelAngle":-48,"labelFontSize":16.5,"tickSize":-5,"labelPadding":8,"labelOverlap":false,"labelBound":false}},
  "x2":{"field":"end"},
  "y":{"field":"top","type":"quantitative","title":null,"scale":{"domain":[0,25],"nice":false},
   "axis":{"values":[0,5,10,15,20,25],"labelFontSize":15,"tickSize":-5,"labelPadding":22}},
  "y2":{"datum":0},
  "color":{"datum":"NBER衰退期","scale":{"domain":["NBER衰退期","降息周期","有效联邦基金利率","美联储贴现利率","美国:联邦基金目标利率"],"range":["#BCBCBC","#B9D1E9","#FFC000","#1F6FB4","#C00000"]},
   "legend":{"orient":"none","legendX":11,"legendY":-49,"direction":"horizontal","title":null,
    "labelFont":"Noto Sans CJK SC","labelFontSize":18,"labelColor":"#262626","labelLimit":400,
    "symbolType":"M-1,-0.2H1V0.2H-1Z","symbolSize":1444,"symbolStrokeWidth":0,"labelOffset":3,"columnPadding":20,
    "encode":{"symbols":{"update":{
      "shape":{"signal":"(datum.value === 'NBER衰退期' || datum.value === '降息周期') ? 'M-1,-0.2H1V0.2H-1Z' : 'M-1,-0.1H1V0.1H-1Z'"},
      "fill":{"signal":"datum.value === 'NBER衰退期' ? '#BCBCBC' : datum.value === '降息周期' ? '#DCE8F4' : datum.value === '有效联邦基金利率' ? '#FFC000' : datum.value === '美联储贴现利率' ? '#1F6FB4' : '#C00000'"},
      "stroke":{"value":"transparent"},"opacity":{"value":1},"fillOpacity":{"value":1}}}}}}
 }},
{"data":{"name":"cut"},"mark":{"type":"rect","opacity":0.5},
 "encoding":{"x":{"field":"start","type":"temporal","title":null,
   "axis":{"orient":"bottom","values":[{"year":1971,"month":1,"date":1,"utc":true},{"year":1975,"month":1,"date":1,"utc":true},{"year":1979,"month":1,"date":1,"utc":true},{"year":1983,"month":1,"date":1,"utc":true},{"year":1987,"month":1,"date":1,"utc":true},{"year":1991,"month":1,"date":1,"utc":true},{"year":1995,"month":1,"date":1,"utc":true},{"year":1999,"month":1,"date":1,"utc":true},{"year":2003,"month":1,"date":1,"utc":true},{"year":2007,"month":1,"date":1,"utc":true},{"year":2011,"month":1,"date":1,"utc":true},{"year":2015,"month":1,"date":1,"utc":true},{"year":2019,"month":1,"date":1,"utc":true},{"year":2023,"month":1,"date":1,"utc":true}],
    "labelExpr":"utcFormat(datum.value, '%Y-%m')","labelAngle":-48,"labelFontSize":16.5,"tickSize":-5,"labelPadding":8,"labelOverlap":false,"labelBound":false}},
  "x2":{"field":"end"},
  "y":{"field":"top","type":"quantitative","title":null},"y2":{"datum":0},
  "color":{"datum":"降息周期"}}},
{"data":{"name":"eff"},"mark":{"type":"line","strokeWidth":2.6,"strokeJoin":"round"},
 "encoding":{"x":{"field":"d","type":"temporal","title":null,"axis":null},"y":{"field":"v","type":"quantitative","title":null},"color":{"datum":"有效联邦基金利率"}}},
{"data":{"name":"disc"},"mark":{"type":"line","strokeWidth":3.8,"interpolate":"step-after"},
 "encoding":{"x":{"field":"d","type":"temporal","title":null,"axis":null},"y":{"field":"v","type":"quantitative","title":null},"color":{"datum":"美联储贴现利率"}}},
{"data":{"name":"tgt"},"mark":{"type":"line","strokeWidth":3.8,"interpolate":"step-after"},
 "encoding":{"x":{"field":"d","type":"temporal","title":null,"axis":null},"y":{"field":"v","type":"quantitative","title":null},"color":{"datum":"美国:联邦基金目标利率"}}}
]
}
